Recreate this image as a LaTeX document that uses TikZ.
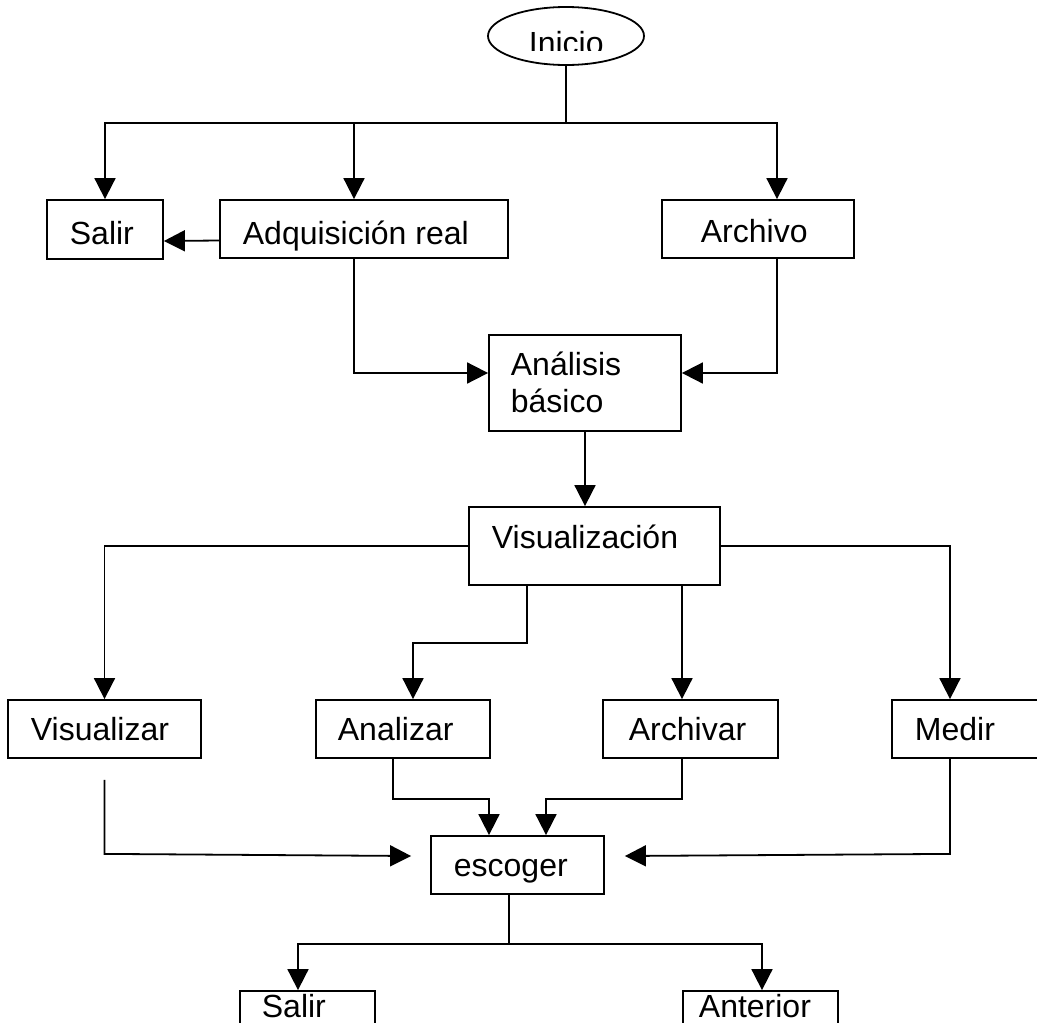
\documentclass[tikz,border=0pt]{standalone}
\usepackage{fontspec}
\setmainfont{Liberation Sans}
\usetikzlibrary{arrows.meta,shapes.geometric}
\begin{document}
\begin{tikzpicture}[x=1pt,y=-1pt,
  line width=1.8pt,
  box/.style={draw, rectangle, inner sep=0pt},
  lbl/.style={anchor=base west, inner sep=0pt, font=\fontsize{32}{37}\selectfont},
  arr/.style={-{Triangle[width=21pt,length=21pt]}}]
\useasboundingbox (0,0) rectangle (1037,1023);
\clip (0,0) rectangle (1037,1023);

% boxes
\node[draw, ellipse, inner sep=0pt, minimum width=156pt, minimum height=58pt] (ini) at (566,36) {};
\node[box, minimum width=116pt, minimum height=59pt] (salirA) at (105,229.5) {};
\node[box, minimum width=288pt, minimum height=58pt] (adq) at (364,229) {};
\node[box, minimum width=192pt, minimum height=58pt] (arch) at (758,229) {};
\node[box, minimum width=192pt, minimum height=96pt] (anb) at (585,383) {};
\node[box, minimum width=251pt, minimum height=78pt] (viz) at (594.5,546) {};
\node[box, minimum width=193pt, minimum height=58pt] (vsl) at (104.5,729) {};
\node[box, minimum width=174pt, minimum height=58pt] (anl) at (403,729) {};
\node[box, minimum width=175pt, minimum height=58pt] (archv) at (690.5,729) {};
\node[box, minimum width=158pt, minimum height=58pt] (med) at (971,729) {};
\node[box, minimum width=173pt, minimum height=58pt] (esc) at (517.5,865) {};
\node[box, minimum width=135pt, minimum height=68pt] (salirB) at (307.5,1025) {};
\node[box, minimum width=155pt, minimum height=68pt] (ant) at (760.5,1025) {};

% labels
\begin{scope}
  \clip (0,0) rectangle (1037,50);
  \node[lbl] (tIni) at (528,54) {Inicio};
\end{scope}
\node[lbl] (tSalirA) at (69,244) {Salir};
\node[lbl] (tAdq) at (242,244) {Adquisición real};
\node[lbl] (tArch) at (700,242) {Archivo};
\node[lbl] (tAnbA) at (510,375) {Análisis};
\node[lbl] (tAnbB) at (510,412) {básico};
\node[lbl] (tViz) at (491,548) {Visualización};
\node[lbl] (tVsl) at (30,740) {Visualizar};
\node[lbl] (tAnl) at (337,740) {Analizar};
\node[lbl] (tArchv) at (628,740) {Archivar};
\node[lbl] (tMed) at (914,740) {Medir};
\node[lbl] (tEsc) at (453,876) {escoger};
\node[lbl] (tSalirB) at (261,1017) {Salir};
\node[lbl] (tAnt) at (698,1017) {Anterior};

% connectors
\coordinate (fork) at (566,123);
\draw (ini.south) -- (fork);
\draw[arr] (fork) -| (salirA.north);
\draw[arr] (fork) -| ([xshift=-10pt]adq.north);
\draw[arr] (fork) -| ([xshift=19pt]arch.north);
\draw[arr] ([yshift=-11.5pt]adq.west) -- ([yshift=-11.5pt]salirA.east);
\draw[arr] ([xshift=-10pt]adq.south) |- ([yshift=10pt]anb.west);
\draw[arr] ([xshift=19pt]arch.south) |- ([yshift=10pt]anb.east);
\draw[arr] (anb.south) -- (anb.south |- viz.north);
\draw[arr] (viz.west) -| (vsl.north);
\draw[arr] (viz.east) -| ([xshift=-21pt]med.north);
\draw[arr] ([xshift=-67.5pt]viz.south) -- ++(0,57) -| ([xshift=10pt]anl.north);
\draw[arr] ([xshift=87.5pt]viz.south) -- ([xshift=87.5pt]viz.south |- archv.north);
\draw[arr] ([yshift=-21pt]vsl.south) -- ++(0,74) -- ([xshift=-19pt,yshift=9pt]esc.west);
\draw[arr] ([xshift=-10pt]anl.south) -- ++(0,40) -| ([xshift=-28.5pt]esc.north);
\draw[arr] ([xshift=-8.5pt]archv.south) -- ++(0,40) -| ([xshift=28.5pt]esc.north);
\draw[arr] ([xshift=-21pt]med.south) -- ++(0,95) -- ([xshift=20pt,yshift=9pt]esc.east);
\draw ([xshift=-8.5pt]esc.south) -- ++(0,49) coordinate (fork2);
\draw[arr] (fork2) -| ([xshift=-9.5pt]salirB.north);
\draw[arr] (fork2) -| ([xshift=1.5pt]ant.north);
\end{tikzpicture}
\end{document}
